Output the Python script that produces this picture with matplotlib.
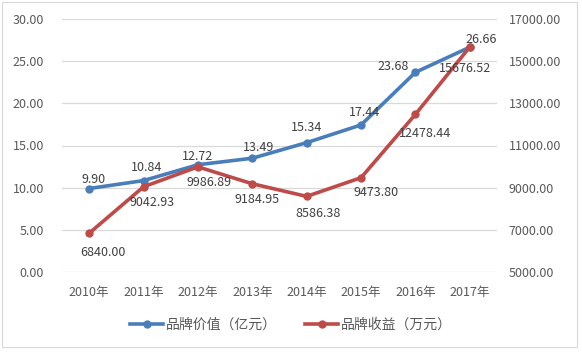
import matplotlib
matplotlib.use("Agg")
import matplotlib.pyplot as plt
from matplotlib.patches import Rectangle

plt.rcParams['font.family'] = ['Noto Sans CJK SC', 'DejaVu Sans']

years = ["2010年", "2011年", "2012年", "2013年", "2014年", "2015年", "2016年", "2017年"]
brand_value = [9.90, 10.84, 12.72, 13.49, 15.34, 17.44, 23.68, 26.66]
brand_revenue = [6840.00, 9042.93, 9986.89, 9184.95, 8586.38, 9473.80, 12478.44, 15676.52]
left_ticks = [0, 5, 10, 15, 20, 25, 30]
right_ticks = [5000, 7000, 9000, 11000, 13000, 15000, 17000]
name_value = "品牌价值（亿元）"
name_revenue = "品牌收益（万元）"

# label offsets in pixels (style only)
blue_off = [(4, 9), (3, 13), (0, 8), (6, 11), (0, 15), (3, 12), (-22, 6), (11, 8)]
red_off = [(14, -19), (8, -16), (11, -16), (5, -16), (11, -17), (15, -15), (10, -19), (-5, -22)]

BLUE = "#4A7EBB"
RED = "#BE4B48"
TXT = "#404040"
TICK = "#595959"

fig = plt.figure(figsize=(5.82, 3.52), dpi=100)
ax = fig.add_axes([62/582, 1-272/352, (497-62)/582, (272-19)/352])
ax2 = ax.twinx()

x = list(range(len(years)))
ax.plot(x, brand_value, color=BLUE, lw=2.6, marker='o', ms=5, zorder=3, label=name_value)
ax2.plot(x, brand_revenue, color=RED, lw=2.6, marker='o', ms=5, zorder=3, label=name_revenue)

ax.set_xlim(-0.5, len(years) - 0.5)
ax.set_ylim(0, 30)
ax2.set_ylim(5000, 17000)
ax.set_yticks(left_ticks)
ax.set_yticklabels([f"{v:.2f}" for v in left_ticks])
ax2.set_yticks(right_ticks)
ax2.set_yticklabels([f"{v:.2f}" for v in right_ticks])
ax.set_xticks(x)
ax.set_xticklabels(years)

for a in (ax, ax2):
    for s in a.spines.values():
        s.set_visible(False)
    a.tick_params(length=0, labelsize=9, colors=TICK)
ax.tick_params(axis='y', pad=13)
ax2.tick_params(axis='y', pad=8.5)
ax.tick_params(axis='x', pad=10)
ax.grid(axis='y', color="#D9D9D9", lw=0.9)
ax.set_axisbelow(True)
ax2.set_zorder(ax.get_zorder() + 1)
ax2.patch.set_visible(False)

for i, v in enumerate(brand_value):
    ax.annotate(f"{v:.2f}", (i, v), xytext=blue_off[i], textcoords='offset pixels',
                ha='center', va='center', fontsize=9, color=TXT, zorder=5)
for i, v in enumerate(brand_revenue):
    ax2.annotate(f"{v:.2f}", (i, v), xytext=red_off[i], textcoords='offset pixels',
                 ha='center', va='center', fontsize=9, color=TXT, zorder=5)

h1, l1 = ax.get_legend_handles_labels()
h2, l2 = ax2.get_legend_handles_labels()
fig.legend(h1 + h2, l1 + l2, loc='center', bbox_to_anchor=(0.5, 1-325/352), ncol=2,
           frameon=False, fontsize=10, labelcolor=TICK, handlelength=2.4,
           handletextpad=0.2, columnspacing=2.0)

fig.patches.append(Rectangle((2/582, 1-347/352), 575/582, 345/352, transform=fig.transFigure,
                             fill=False, edgecolor="#D9D9D9", lw=0.8))

fig.savefig("out.png", dpi=100)
